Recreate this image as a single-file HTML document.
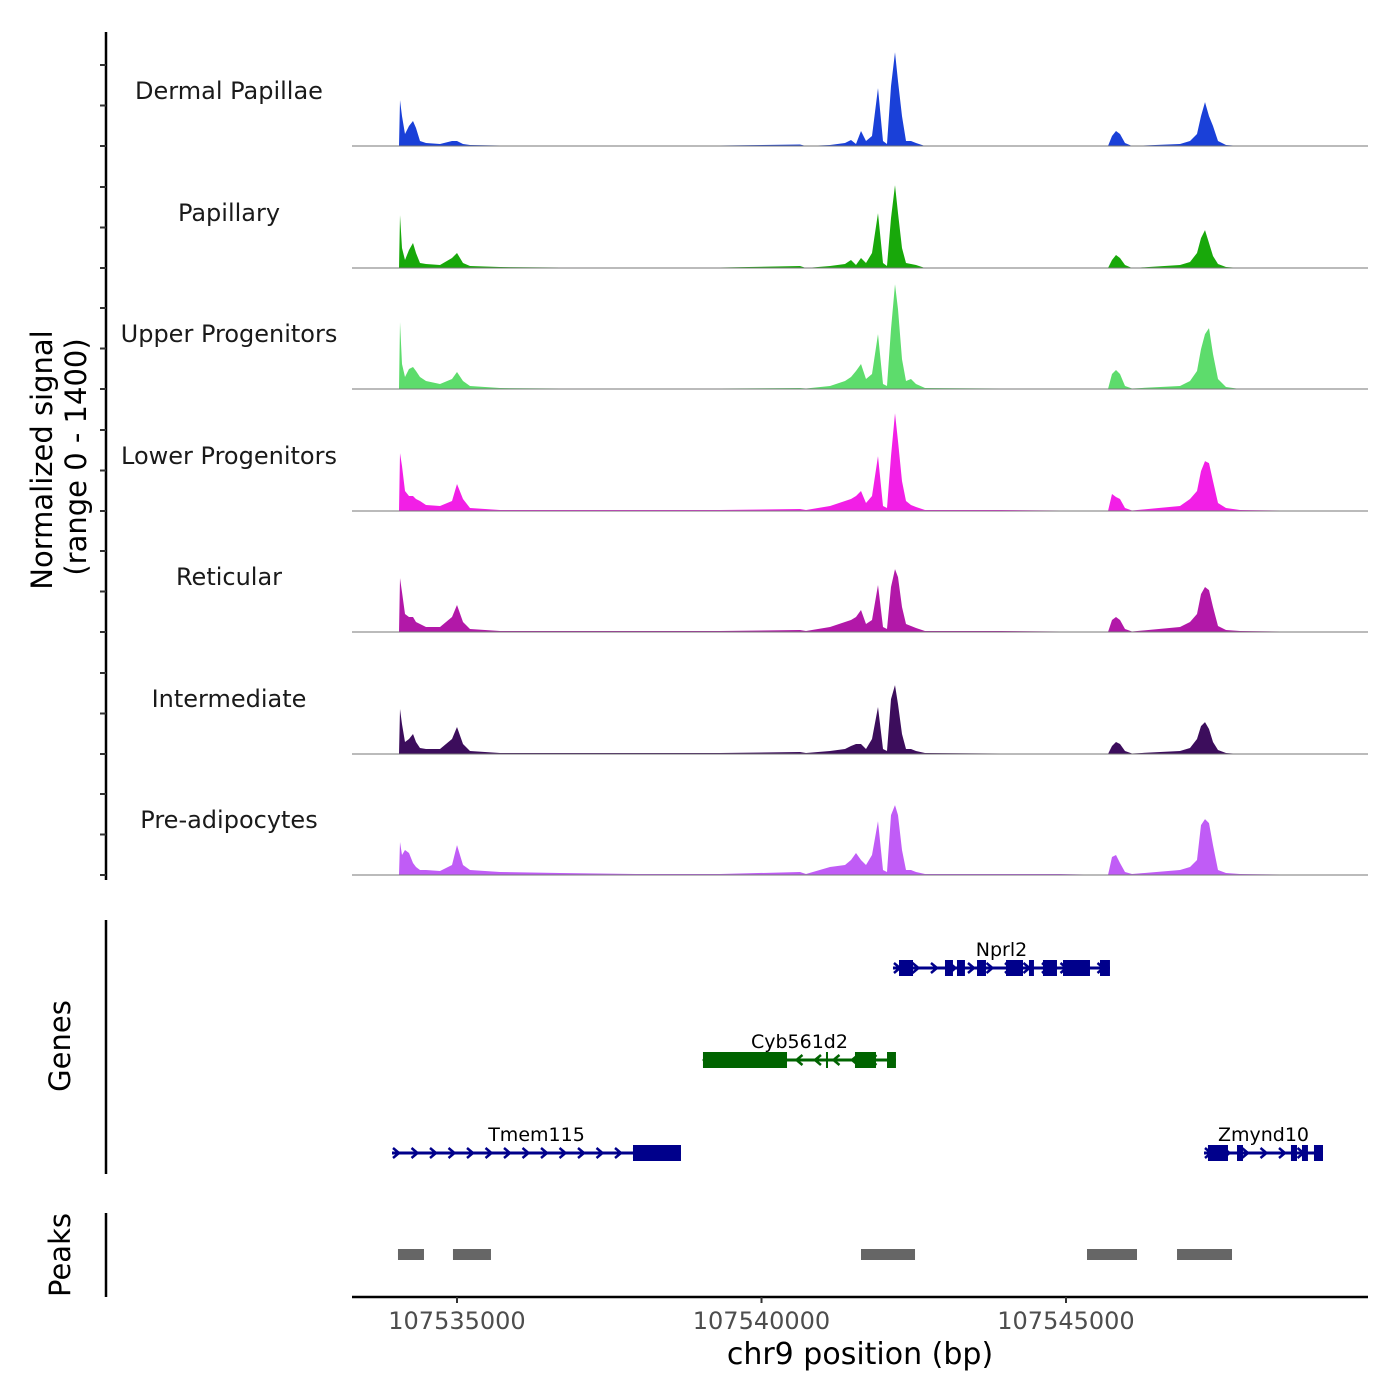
<!DOCTYPE html>
<html><head><meta charset="utf-8">
<style>
html,body{margin:0;padding:0;background:#fff;}
svg{display:block;font-family:"DejaVu Sans","Liberation Sans",sans-serif;}
</style></head>
<body>
<svg id="chart" width="1400" height="1400" viewBox="0 0 1400 1400" xmlns="http://www.w3.org/2000/svg"></svg>
<script>
// ---- data ----
const positions = [107534048,107534064,107534097,107534146,107534212,107534278,107534327,107534393,107534491,107534721,107534918,107535000,107535099,107535214,107535706,107536691,107538005,107539319,107540632,107540731,107541125,107541371,107541470,107541552,107541634,107541716,107541814,107541913,107541995,107542061,107542126,107542192,107542241,107542307,107542373,107542455,107542537,107542685,107543916,107544901,107545689,107545755,107545821,107545887,107545969,107546084,107546872,107547036,107547151,107547217,107547283,107547348,107547414,107547496,107547627,107547857,107549171];
const trackNames = ["Dermal Papillae","Papillary","Upper Progenitors","Lower Progenitors","Reticular","Intermediate","Pre-adipocytes"];
const trackColors = ["#1a40d8","#18a80a","#5ddc6c","#f21fe6","#b218a8","#3c0d5c","#c05cf6"];
const dermalPapillae = [0,529,345,138,230,288,207,58,35,23,58,58,23,12,6,6,6,6,17,0,12,35,69,23,173,58,115,667,58,23,690,1081,748,345,58,58,35,0,3,3,0,115,173,138,35,0,23,58,138,345,506,345,230,58,12,0,0];
const papillary = [0,610,230,92,207,288,173,58,46,35,115,173,58,23,12,6,6,6,23,0,23,46,92,35,115,58,173,633,58,23,575,955,633,230,58,46,35,0,6,6,0,92,150,115,35,0,35,69,173,345,437,288,138,46,12,0,0];
const upperProgenitors = [0,771,288,138,230,253,207,138,92,58,115,196,92,35,12,6,6,6,12,6,35,92,138,207,288,115,173,633,58,35,690,1208,920,345,92,115,58,12,6,6,0,173,219,173,35,6,35,92,207,460,633,702,403,115,23,0,0];
const lowerProgenitors = [0,667,518,230,173,173,138,115,69,58,115,311,138,35,12,12,12,12,23,12,58,115,138,173,230,92,173,633,58,35,633,1127,805,345,115,69,46,12,12,6,0,196,161,138,35,6,58,138,230,460,575,552,345,92,35,12,0];
const reticular = [0,621,460,207,173,173,115,92,58,58,173,311,115,35,12,12,12,12,23,12,58,115,138,173,253,92,138,541,58,35,518,725,633,288,92,69,46,12,12,6,0,138,173,138,35,6,58,115,207,437,518,483,288,69,23,12,0];
const intermediate = [0,518,345,138,173,230,138,69,58,58,173,311,115,35,12,12,12,12,23,12,35,58,92,115,115,58,173,541,58,35,633,794,575,230,58,58,35,12,6,6,0,92,138,115,35,6,35,69,173,322,368,288,138,46,12,0,0];
const preAdipocytes = [0,380,230,288,253,138,92,58,58,46,115,345,115,58,35,23,12,12,35,12,92,115,173,253,173,115,230,621,58,35,690,805,690,288,58,58,35,12,12,12,0,207,230,138,35,12,58,92,173,575,644,598,345,58,23,12,0];
const peakStarts = [107534031,107534934,107541634,107545345,107546823];
const peakEnds = [107534458,107535558,107542521,107546166,107547726];
const geneNames = ["Nprl2","Cyb561d2","Tmem115","Zmynd10"];
const geneStarts = [107542159,107539039,107533933,107547266];
const geneEnds = [107545722,107542208,107538678,107549220];
const geneStrand = [1,-1,1,1];
const geneRow = [0,1,2,2];
const geneExons = [
 [[107542258,107542488],[107543013,107543144],[107543210,107543341],[107543539,107543686],[107544015,107544294],[107544392,107544474],[107544622,107544852],[107544951,107545394],[107545558,107545722]],
 [[107539039,107540419],[107541059,107541092],[107541535,107541880],[107542061,107542208]],
 [[107537890,107538678]],
 [[107547331,107547660],[107547808,107547906],[107548694,107548793],[107548875,107548973],[107549072,107549220]]
];
const xTicks = [107535000,107540000,107545000];
const xMin = 107533276, xMax = 107549959, yMax = 1400;
// ---- drawing ----
const svg = document.getElementById('chart');
const NS = 'http://www.w3.org/2000/svg';
function mk(tag, attrs, parent){const e=document.createElementNS(NS,tag);for(const k in attrs)e.setAttribute(k,attrs[k]);(parent||svg).appendChild(e);return e;}
const X0=352,X1=1368;
function xs(bp){return X0+(bp-xMin)/(xMax-xMin)*(X1-X0);}
const series=[dermalPapillae,papillary,upperProgenitors,lowerProgenitors,reticular,intermediate,preAdipocytes];
const baselines=[146,268,389,511,632,754,875];
const trackH=121.5;
series.forEach((vals,i)=>{
  const b=baselines[i];
  const ys=v=>b-v/yMax*trackH;
  let d='M'+xs(positions[0])+','+b;
  positions.forEach((p,j)=>{d+=' L'+xs(p).toFixed(1)+','+ys(vals[j]).toFixed(1);});
  d+=' L'+xs(positions[positions.length-1])+','+b+' Z';
  const a=mk('path',{d:d,fill:trackColors[i],stroke:'none'});
  
  
  const ln=mk('line',{x1:X0,x2:X1,y1:b,y2:b,stroke:'#777','stroke-width':1});
  
  
  const t=mk('text',{x:229,y:b-47,'font-size':24,'text-anchor':'middle',fill:'#1a1a1a'});
  t.textContent=trackNames[i];
  
  
});
let ax=mk('line',{x1:106,x2:106,y1:32,y2:880,stroke:'#000','stroke-width':2.5});


baselines.forEach(b=>{[0,1,2].forEach(k=>{
  const y=b-k*trackH/3;
  const tk=mk('line',{x1:100,x2:106,y1:y,y2:y,stroke:'#333','stroke-width':2});
  
  
});});
let yt=mk('text',{transform:'translate(52,460) rotate(-90)','font-size':29,'text-anchor':'middle',fill:'#000'});
yt.textContent='Normalized signal';


let yt2=mk('text',{transform:'translate(86,457) rotate(-90)','font-size':29,'text-anchor':'middle',fill:'#000'});
yt2.textContent='(range 0 - 1400)';


let gax=mk('line',{x1:106,x2:106,y1:920,y2:1174,stroke:'#000','stroke-width':2.5});


let gt=mk('text',{transform:'translate(70,1046) rotate(-90)','font-size':29,'text-anchor':'middle',fill:'#000'});
gt.textContent='Genes';


const rowY=[968,1060,1153];
geneNames.forEach((g,i)=>{
  const y=rowY[geneRow[i]];
  const col=geneStrand[i]>0?'#00008b':'#006400';
  const grp=mk('g',{});
  
  
  const x0=xs(geneStarts[i]),x1=xs(geneEnds[i]);
  mk('line',{x1:x0,x2:x1,y1:y,y2:y,stroke:col,'stroke-width':3},grp);
  for(let x=x0+4;x<x1-4;x+=18.5){
    const s=geneStrand[i];
    mk('polyline',{points:(x-3*s)+','+(y-5)+' '+(x+3*s)+','+y+' '+(x-3*s)+','+(y+5),fill:'none',stroke:col,'stroke-width':2.5},grp);
  }
  geneExons[i].forEach(e=>{
    mk('rect',{x:xs(e[0]),y:y-8,width:Math.max(2,xs(e[1])-xs(e[0])),height:16,fill:col},grp);
  });
  const lt=mk('text',{x:(x0+x1)/2,y:y-12,'font-size':19,'text-anchor':'middle',fill:'#000'},grp);
  lt.textContent=g;
});
let pax=mk('line',{x1:106,x2:106,y1:1213,y2:1297,stroke:'#000','stroke-width':2.5});


let pt=mk('text',{transform:'translate(70,1255) rotate(-90)','font-size':29,'text-anchor':'middle',fill:'#000'});
pt.textContent='Peaks';


peakStarts.forEach((s,i)=>{
  const r=mk('rect',{x:xs(s),y:1249,width:xs(peakEnds[i])-xs(s),height:11,fill:'#666'});
  
  
});
let xa=mk('line',{x1:X0,x2:X1,y1:1297,y2:1297,stroke:'#000','stroke-width':2.5});


xTicks.forEach(t=>{
  const x=xs(t);
  const tk=mk('line',{x1:x,x2:x,y1:1297,y2:1303,stroke:'#333','stroke-width':2});
  
  
  const tl=mk('text',{x:x,y:1329,'font-size':24,'text-anchor':'middle',fill:'#4d4d4d'});
  tl.textContent=String(t);
  
  
});
let xt=mk('text',{x:860,y:1364,'font-size':30,'text-anchor':'middle',fill:'#000'});
xt.textContent='chr9 position (bp)';


</script>
</body></html>
